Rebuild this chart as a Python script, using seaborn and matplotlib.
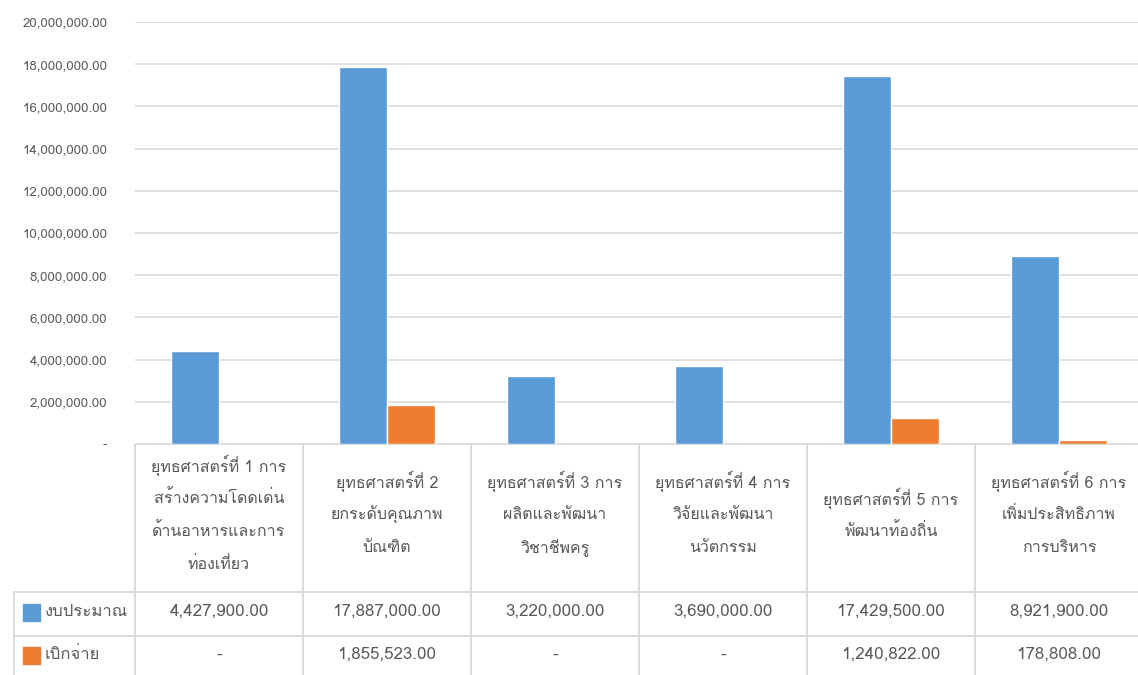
import numpy as np
import pandas as pd
import matplotlib
matplotlib.use("Agg")
import matplotlib.pyplot as plt
from matplotlib import font_manager
from matplotlib.ft2font import FT2Font
import seaborn as sns

# data
categories = [
    "ยุทธศาสตร์ที่ 1 การ\nสร้างความโดดเด่น\nด้านอาหารและการ\nท่องเที่ยว",
    "ยุทธศาสตร์ที่ 2\nยกระดับคุณภาพ\nบัณฑิต",
    "ยุทธศาสตร์ที่ 3 การ\nผลิตและพัฒนา\nวิชาชีพครู",
    "ยุทธศาสตร์ที่ 4 การ\nวิจัยและพัฒนา\nนวัตกรรม",
    "ยุทธศาสตร์ที่ 5 การ\nพัฒนาท้องถิ่น",
    "ยุทธศาสตร์ที่ 6 การ\nเพิ่มประสิทธิภาพ\nการบริหาร",
]
series_names = ["งบประมาณ", "เบิกจ่าย"]
budget = [4427900.00, 17887000.00, 3220000.00, 3690000.00, 17429500.00, 8921900.00]
spent = [np.nan, 1855523.00, np.nan, np.nan, 1240822.00, 178808.00]
yticks = [0, 2e6, 4e6, 6e6, 8e6, 1e7, 1.2e7, 1.4e7, 1.6e7, 1.8e7, 2e7]

colors = ["#5B9BD5", "#ED7D31"]
grid_c = "#D9D9D9"
text_c = "#595959"


# find an installed font that has Thai glyphs
def find_thai_font():
    preferred = []
    others = []
    for f in font_manager.fontManager.ttflist:
        try:
            cmap = FT2Font(f.fname).get_charmap()
        except Exception:
            continue
        if 0x0E17 in cmap and 0x0E22 in cmap:
            if "Bold" in f.fname or f.weight not in (400, "normal", "regular"):
                others.append(f.name)
            else:
                preferred.append(f.name)
    for n in preferred + others:
        return n
    return None


thai = find_thai_font()
sns.set_style("white")
fams = ([thai] if thai else []) + ["DejaVu Sans"]
plt.rcParams["font.family"] = fams

W, H = 1138, 675
fig = plt.figure(figsize=(W / 100, H / 100), dpi=100)

# pixel geometry of the plot area
x0, col_w = 135, 168
y_top, y_base = 22, 444
ax = fig.add_axes([x0 / W, 1 - y_base / H, 6 * col_w / W, (y_base - y_top) / H])

keys = [f"c{i}" for i in range(len(categories))]
df = pd.DataFrame({
    "cat": keys * 2,
    "series": [series_names[0]] * 6 + [series_names[1]] * 6,
    "value": budget + spent,
})
sns.barplot(data=df, x="cat", y="value", hue="series", palette=colors,
            width=0.5714, saturation=1, legend=False, ax=ax, zorder=3)

ax.set_xlim(-0.5, 5.5)
ax.set_ylim(0, 2e7)
ax.set_yticks(yticks)
ax.set_yticklabels(["-" if v == 0 else f"{v:,.2f}" for v in yticks],
                   color=text_c, fontsize=9.6)
ax.tick_params(axis="y", length=0, pad=20)
ax.tick_params(axis="x", length=0, labelbottom=False)
ax.set_xlabel("")
ax.set_ylabel("")
ax.grid(axis="y", color=grid_c, linewidth=1.2, zorder=0)
for s in ax.spines.values():
    s.set_visible(False)

# data table below the plot, in pixel units
tab = fig.add_axes([0, 0, 1, 1 - y_base / H])
tab.set_xlim(0, W)
tab.set_ylim(H, y_base)
tab.axis("off")

r1, r2, r3 = 592, 636, H + 5
lw = 1.3
# horizontal lines
tab.plot([x0, x0 + 6 * col_w], [y_base, y_base], color=grid_c, lw=lw)
for yy in (r1, r2):
    tab.plot([14, x0 + 6 * col_w], [yy, yy], color=grid_c, lw=lw)
# vertical lines
tab.plot([14, 14], [r1, r3], color=grid_c, lw=lw)
for i in range(7):
    xx = x0 + i * col_w
    tab.plot([xx, xx], [y_base, r3], color=grid_c, lw=lw)

# header cells
for i, cat in enumerate(categories):
    lines = cat.split("\n")
    cx = x0 + (i + 0.5) * col_w
    for j, ln in enumerate(lines):
        cy = 515 + (j - (len(lines) - 1) / 2) * 33.5
        tab.text(cx, cy, ln, ha="center", va="center", color=text_c, fontsize=11.5)

# value rows
rows = [budget, spent]
row_y = [612, 655]
for k in range(2):
    tab.add_patch(plt.Rectangle((23, row_y[k] - 8), 17, 17, color=colors[k]))
    tab.text(45, row_y[k], series_names[k], ha="left", va="center",
             color=text_c, fontsize=12)
    for i, v in enumerate(rows[k]):
        cx = x0 + (i + 0.5) * col_w
        s = "-" if np.isnan(v) else f"{v:,.2f}"
        tab.text(cx, row_y[k], s, ha="center", va="center", color=text_c, fontsize=12.2)

fig.savefig("out.png", dpi=100)
